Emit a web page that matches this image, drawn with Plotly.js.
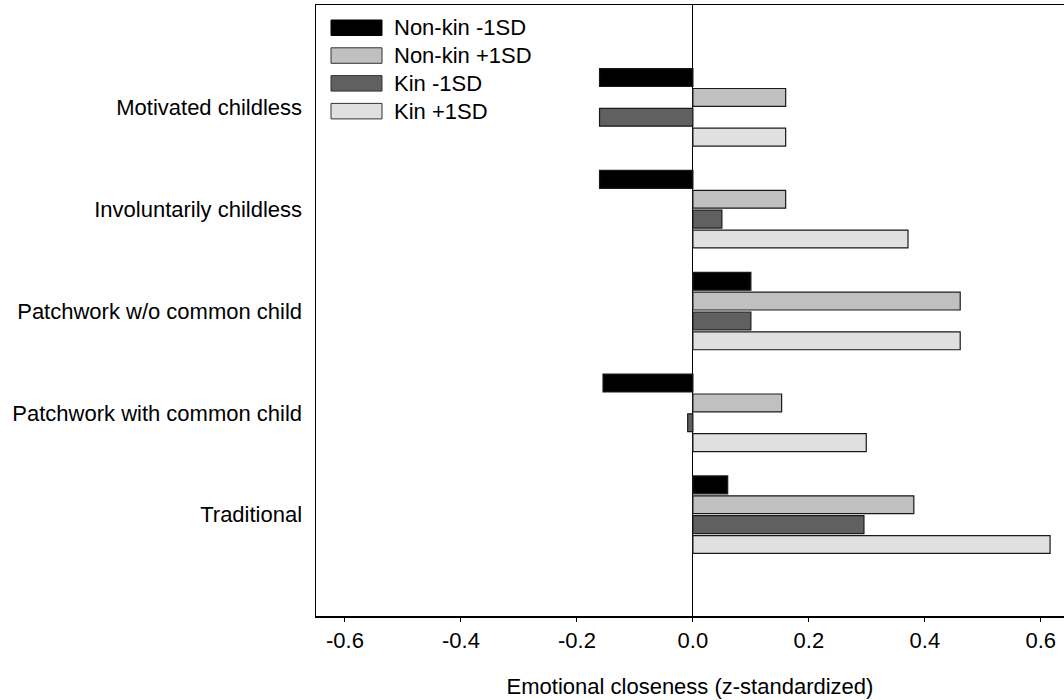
<!DOCTYPE html>
<html>
<head>
<meta charset="utf-8">
<script src="https://cdn.plot.ly/plotly-3.0.1.min.js"></script>
<style>
html,body{margin:0;padding:0;background:#fff;}
#chart{width:1064px;height:700px;}
</style>
</head>
<body>
<div id="chart"></div>
<script>
// ---- data ----
const categories = ["Motivated childless", "Involuntarily childless", "Patchwork w/o common child", "Patchwork with common child", "Traditional"];
const seriesNames = ["Non-kin -1SD", "Non-kin +1SD", "Kin -1SD", "Kin +1SD"];
const nonKinMinus = [-0.161, -0.161, 0.100, -0.155, 0.060];
const nonKinPlus  = [0.160, 0.160, 0.461, 0.153, 0.381];
const kinMinus    = [-0.161, 0.050, 0.100, -0.009, 0.295];
const kinPlus     = [0.160, 0.371, 0.461, 0.299, 0.616];
const xTickVals   = [-0.6, -0.4, -0.2, 0.0, 0.2, 0.4, 0.6];
const xTickText   = ["-0.6", "-0.4", "-0.2", "0.0", "0.2", "0.4", "0.6"];
const xTitle = "Emotional closeness (z-standardized)";

// ---- styling ----
const fills = ["#000000", "#c0c0c0", "#606060", "#e0e0e0"];
const FONT = "Liberation Sans, Arial, sans-serif";
const FS = 22;
const allValues = [nonKinMinus, nonKinPlus, kinMinus, kinPlus];

const traces = allValues.map((vals, i) => ({
  type: "bar",
  orientation: "h",
  name: seriesNames[i],
  y: categories,
  x: vals,
  marker: {color: fills[i], line: {color: "#1a1a1a", width: 1.2}},
  showlegend: false,
  hoverinfo: "x+name"
}));

// plot area in pixels (for the hand-drawn legend)
const M = {l: 316, r: 0, t: 5, b: 84};
const plotW = 1064 - M.l - M.r, plotH = 700 - M.t - M.b;
const px = x => (x - M.l) / plotW;
const py = y => 1 - (y - M.t) / plotH;

const shapes = [];
const annotations = [];
const rowTop = 20, rowPitch = 27.8, boxH = 15.5;
seriesNames.forEach((n, i) => {
  const top = rowTop + i * rowPitch;
  shapes.push({
    type: "rect", xref: "paper", yref: "paper",
    x0: px(331), x1: px(382), y0: py(top + boxH), y1: py(top),
    fillcolor: fills[i], line: {color: i === 0 ? "#000" : "#333", width: 1}
  });
  annotations.push({
    xref: "paper", yref: "paper", x: px(392), y: py(top + boxH / 2),
    xanchor: "left", yanchor: "middle", showarrow: false,
    text: n, font: {family: FONT, size: FS, color: "#000"}
  });
});

const layout = {
  width: 1064, height: 700,
  margin: M,
  paper_bgcolor: "#fff", plot_bgcolor: "#fff",
  barmode: "group",
  bargap: 0.22,
  bargroupgap: 0.1,
  font: {family: FONT, size: FS, color: "#000"},
  showlegend: false,
  xaxis: {
    range: [-0.65, 0.64],
    tickvals: xTickVals, ticktext: xTickText,
    ticks: "outside", ticklen: 4, tickwidth: 1, tickcolor: "#000",
    showline: true, linecolor: "#000", linewidth: 1.5, mirror: true,
    showgrid: false,
    zeroline: true, zerolinecolor: "#000", zerolinewidth: 1,
    tickfont: {family: FONT, size: FS, color: "#000"},
    title: {text: xTitle, font: {family: FONT, size: FS, color: "#000"}, standoff: 26}
  },
  yaxis: {
    type: "category",
    range: [4.995, -1.005],
    showline: true, linecolor: "#000", linewidth: 1.5,
    showgrid: false, zeroline: false,
    ticks: "", ticklabelstandoff: 8,
    tickfont: {family: FONT, size: FS, color: "#000"}
  },
  shapes: shapes,
  annotations: annotations
};

Plotly.newPlot("chart", traces, layout, {displayModeBar: false, staticPlot: true});
</script>
</body>
</html>
